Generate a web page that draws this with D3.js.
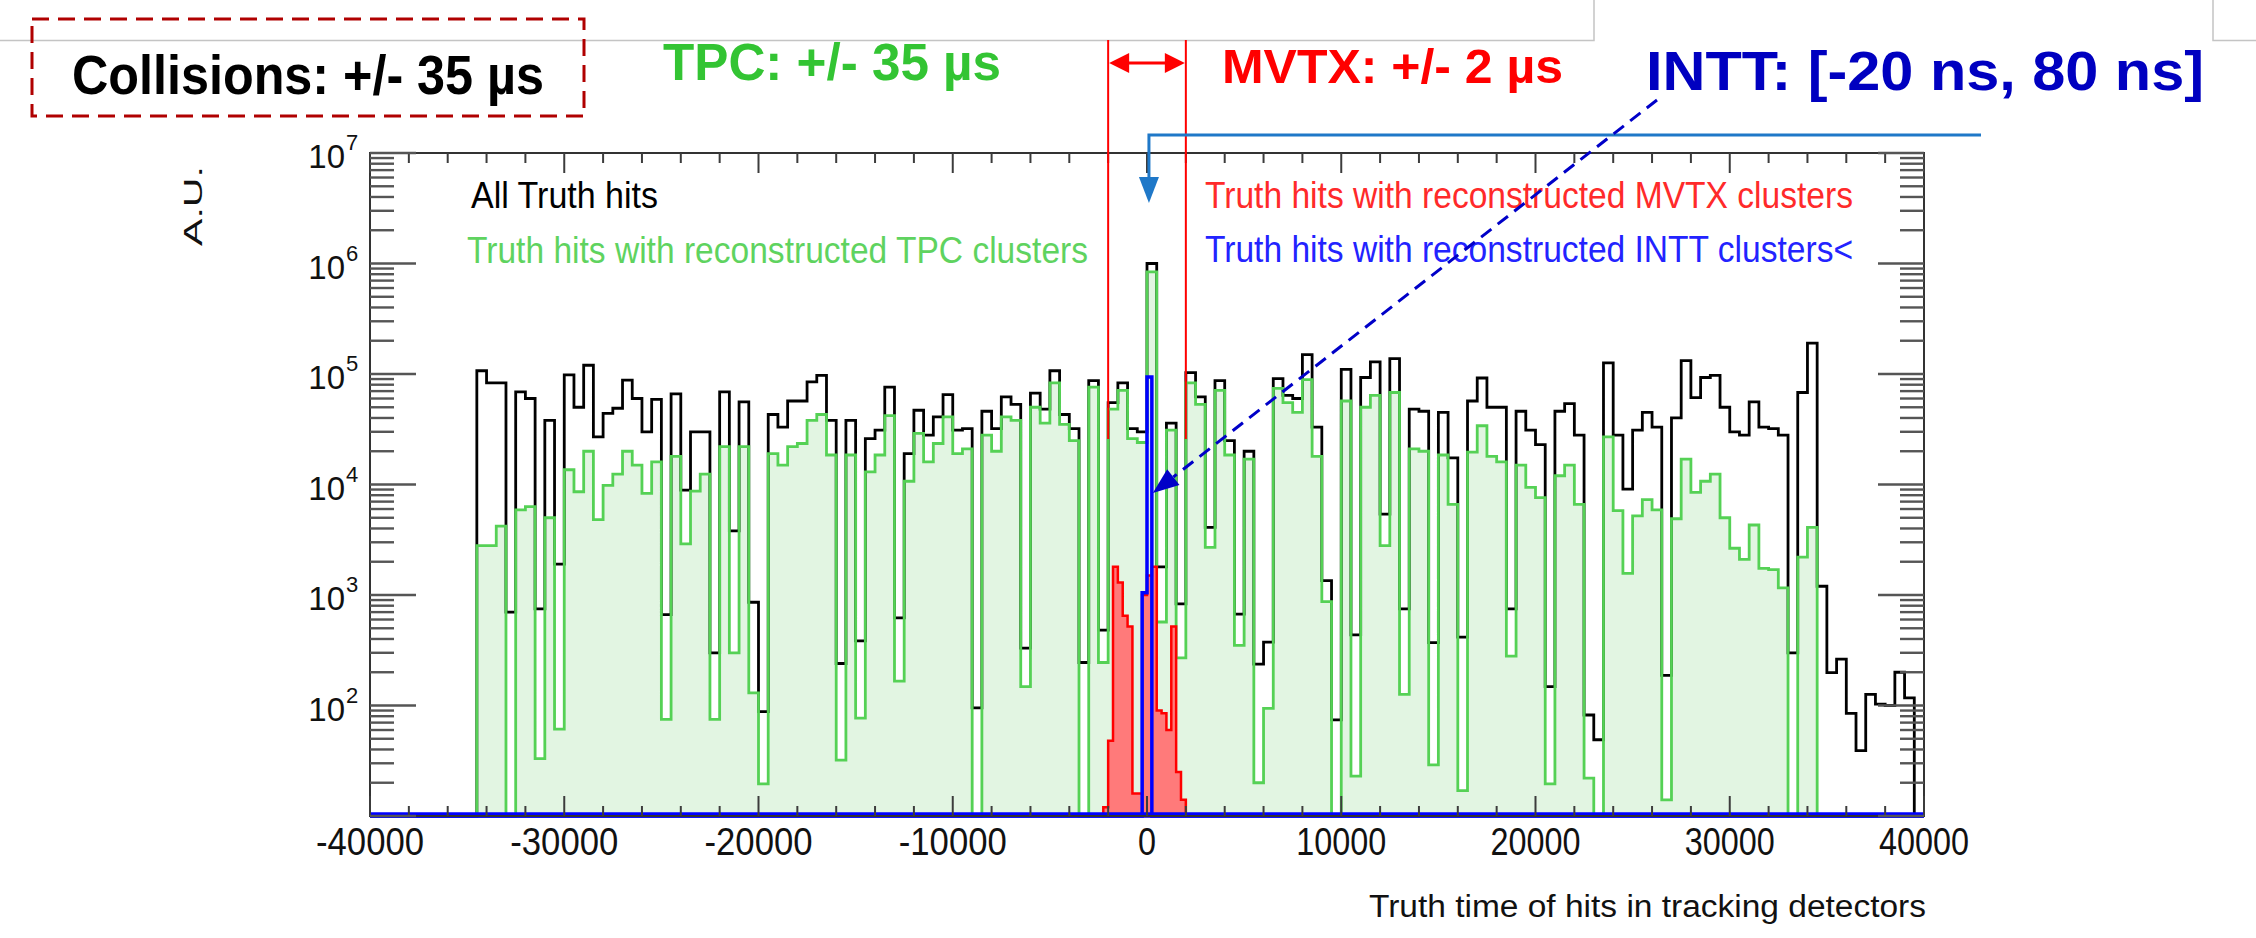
<!DOCTYPE html>
<html>
<head>
<meta charset="utf-8">
<script src="https://cdn.jsdelivr.net/npm/d3@7"></script>
<style>
  body { margin: 0; background: #ffffff; }
  svg { display: block; }
  text { font-family: "Liberation Sans", Arial, Helvetica, sans-serif; }
</style>
</head>
<body>
<svg id="chart" width="2256" height="938"></svg>
<script>
// ---- histogram contents (hits per 500 ns bin, -40000 .. 40000 ns) ----
const binStart = -40000;
const binWidth = 500;

const allHits = [
  0, 0, 0, 0, 0, 0, 0, 0, 0, 0, 0,
  1.07e5, 8.3e4, 8.3e4, 700, 6.9e4, 6.0e4, 750, 3.8e4, 1.9e3,
  9.8e4, 5.0e4, 1.2e5, 2.7e4, 4.4e4, 4.9e4, 8.8e4, 6.0e4, 3.0e4, 5.9e4,
  665, 6.6e4, 8.9e3, 3.0e4, 3.0e4, 300, 6.9e4, 3.8e3, 5.6e4, 860,
  88, 4.3e4, 3.3e4, 5.7e4, 5.7e4, 8.5e4, 9.7e4, 3.8e4, 240, 3.8e4,
  385, 2.6e4, 3.1e4, 7.6e4, 620, 1.9e4, 4.7e4, 2.8e4, 4.1e4, 6.5e4,
  3.1e4, 3.2e4, 95, 4.6e4, 3.2e4, 6.2e4, 5.3e4, 330, 6.7e4, 4.8e4,
  1.07e5, 4.3e4, 3.2e4, 245, 8.7e4, 480, 5.5e4, 8.3e4, 3.2e4, 3.0e4,
  1.0e6, 1.8e3, 3.6e4, 830, 1.03e5, 6.2e4, 4.1e3, 8.7e4, 2.5e4, 670,
  2.0e4, 237, 375, 9.1e4, 6.4e4, 6.0e4, 1.5e5, 3.3e4, 1.35e3, 74,
  1.1e5, 435, 9.3e4, 1.29e5, 5.4e3, 1.38e5, 750, 4.8e4, 4.6e4, 370,
  4.5e4, 1.74e4, 415, 5.7e4, 9.2e4, 5.0e4, 5.0e4, 750, 4.6e4, 3.1e4,
  2.3e4, 148, 4.6e4, 5.4e4, 2.8e4, 82, 49, 1.26e5, 2.8e4, 9.1e3,
  3.1e4, 4.5e4, 3.3e4, 187, 4.0e4, 1.32e5, 6.1e4, 9.3e4, 9.7e4, 5.0e4,
  3.0e4, 2.8e4, 5.6e4, 3.3e4, 3.2e4, 2.8e4, 300, 6.8e4, 1.9e5, 1.2e3,
  198, 263, 85, 39, 126, 103, 100, 200, 117, 0
];

const tpcHits = [
  0, 0, 0, 0, 0, 0, 0, 0, 0, 0, 0,
  2.8e3, 2.8e3, 4.2e3, 0, 5.9e3, 6.3e3, 33, 5.0e3, 61,
  1.36e4, 8.6e3, 2.0e4, 4.8e3, 9.8e3, 1.24e4, 2.0e4, 1.5e4, 8.3e3, 1.6e4,
  75, 1.8e4, 2.9e3, 8.7e3, 1.24e4, 75, 2.2e4, 300, 2.2e4, 130,
  19.5, 1.9e4, 1.5e4, 2.2e4, 2.35e4, 3.8e4, 4.3e4, 1.85e4, 32, 1.85e4,
  77, 1.3e4, 1.85e4, 4.2e4, 166, 1.07e4, 2.9e4, 1.6e4, 2.35e4, 4.1e4,
  1.9e4, 2.1e4, 0, 2.8e4, 2.0e4, 4.1e4, 3.8e4, 148, 5.0e4, 3.6e4,
  8.3e4, 3.5e4, 2.5e4, 0, 7.6e4, 245, 4.8e4, 7.1e4, 2.6e4, 2.4e4,
  8.4e5, 570, 3.1e4, 270, 8.3e4, 5.3e4, 2.7e3, 7.1e4, 1.85e4, 350,
  1.7e4, 20, 94, 7.4e4, 5.5e4, 4.5e4, 8.9e4, 1.8e4, 870, 0,
  5.7e4, 23, 5.0e4, 6.4e4, 2.8e3, 6.8e4, 126, 2.1e4, 2.0e4, 29,
  1.85e4, 6.6e3, 17, 1.96e4, 3.4e4, 1.8e4, 1.6e4, 280, 1.5e4, 9.4e3,
  7.6e3, 19.5, 1.2e4, 1.5e4, 6.6e3, 22, 0, 2.7e4, 5.8e3, 1.57e3,
  5.2e3, 7.3e3, 5.9e3, 14, 4.9e3, 1.7e4, 8.5e3, 1.07e4, 1.24e4, 5.0e3,
  2.65e3, 2.1e3, 4.3e3, 1.74e3, 1.7e3, 1.16e3, 0, 2.2e3, 4.1e3, 0,
  0, 0, 0, 0, 0, 0, 0, 0, 0, 0
];

// MVTX: finer 250 ns bins around the trigger
const mvtxStart = -2250;
const mvtxWidth = 250;
const mvtxHits = [12, 48, 1800, 1300, 650, 520, 16, 16, 1000, 1500, 1800, 90, 85, 60, 520, 25, 14, 0];

// INTT: only the bins around t = 0 are populated
const inttEdges = [-250, 0, 250];
const inttHits = [1050, 9.4e4];

const xTickValues = [-40000, -30000, -20000, -10000, 0, 10000, 20000, 30000, 40000];
const xTickLabels = ["-40000", "-30000", "-20000", "-10000", "0", "10000", "20000", "30000", "40000"];
const yDecades = [2, 3, 4, 5, 6, 7];

const legendLabels = [
  "All Truth hits",
  "Truth hits with reconstructed TPC clusters",
  "Truth hits with reconstructed MVTX clusters",
  "Truth hits with reconstructed INTT clusters<"
];
const windowLabels = [
  "Collisions: +/- 35 \u00b5s",
  "TPC: +/- 35 \u00b5s",
  "MVTX: +/- 2 \u00b5s",
  "INTT: [-20 ns, 80 ns]"
];
const mvtxWindow = [-2000, 2000];

// ---- layout ----
const svg = d3.select("#chart");
const frame = { left: 370, right: 1924, top: 153, bottom: 816 };

const x = d3.scaleLinear().domain([-40000, 40000]).range([frame.left, frame.right]);
const y = d3.scaleLog().domain([10, 1e7]).range([frame.bottom, frame.top]);
const yClamp = v => (v > 10 ? y(v) : frame.bottom);

const colors = {
  all: "#000000",
  tpcLine: "#55d155",
  tpcFill: "#e2f5e2",
  mvtxLine: "#ff0000",
  mvtxFill: "#ff7a7a",
  intt: "#0000ff",
  tick: "#3c3c3c"
};

function edgesFrom(start, width, n) {
  return d3.range(n + 1).map(i => start + i * width);
}

// step outline of a histogram, optionally padded with empty bins to the full axis
function stepPath(edges, values, padFull) {
  const p = d3.path();
  const b = frame.bottom;
  if (padFull) {
    p.moveTo(x(-40000), b);
    p.lineTo(x(edges[0]), b);
  } else {
    p.moveTo(x(edges[0]), b);
  }
  values.forEach((v, i) => {
    p.lineTo(x(edges[i]), yClamp(v));
    p.lineTo(x(edges[i + 1]), yClamp(v));
  });
  p.lineTo(x(edges[edges.length - 1]), b);
  if (padFull) p.lineTo(x(40000), b);
  return p.toString();
}

const mainEdges = edgesFrom(binStart, binWidth, allHits.length);
const mvtxEdges = edgesFrom(mvtxStart, mvtxWidth, mvtxHits.length);

svg.append("defs").append("clipPath").attr("id", "plotClip")
  .append("rect")
  .attr("x", frame.left).attr("y", frame.top - 2)
  .attr("width", frame.right - frame.left).attr("height", frame.bottom - frame.top + 6);

const plot = svg.append("g").attr("clip-path", "url(#plotClip)");

// TPC fill underneath everything
plot.append("path")
  .attr("d", stepPath(mainEdges, tpcHits, false) + "Z")
  .attr("fill", colors.tpcFill).attr("stroke", "none");

// all hits
plot.append("path")
  .attr("d", stepPath(mainEdges, allHits, false))
  .attr("fill", "none").attr("stroke", colors.all).attr("stroke-width", 2.8)
  .attr("stroke-linejoin", "miter");

// TPC outline
plot.append("path")
  .attr("d", stepPath(mainEdges, tpcHits, false))
  .attr("fill", "none").attr("stroke", colors.tpcLine).attr("stroke-width", 2.8);

// MVTX
plot.append("path")
  .attr("d", stepPath(mvtxEdges, mvtxHits, false) + "Z")
  .attr("fill", colors.mvtxFill).attr("stroke", colors.mvtxLine).attr("stroke-width", 2.5);

// INTT (empty bins run along the bottom of the frame)
plot.append("path")
  .attr("d", stepPath(inttEdges, inttHits, true))
  .attr("fill", "none").attr("stroke", colors.intt).attr("stroke-width", 3.5);

plot.append("line")
  .attr("x1", frame.left).attr("x2", frame.right)
  .attr("y1", frame.bottom - 1).attr("y2", frame.bottom - 1)
  .attr("stroke", colors.intt).attr("stroke-width", 5.5);

// ---- frame and ticks ----
const axes = svg.append("g");
axes.append("rect")
  .attr("x", frame.left).attr("y", frame.top)
  .attr("width", frame.right - frame.left).attr("height", frame.bottom - frame.top)
  .attr("fill", "none").attr("stroke", "#333").attr("stroke-width", 2);

// x ticks: major every 10000, minor every 2000, on bottom and top
d3.range(-40000, 40001, 2000).forEach(v => {
  const major = v % 10000 === 0;
  const len = major ? 20 : 10;
  const xx = x(v);
  axes.append("line").attr("x1", xx).attr("x2", xx)
    .attr("y1", frame.bottom).attr("y2", frame.bottom - len)
    .attr("stroke", colors.tick).attr("stroke-width", 2);
  axes.append("line").attr("x1", xx).attr("x2", xx)
    .attr("y1", frame.top).attr("y2", frame.top + len)
    .attr("stroke", colors.tick).attr("stroke-width", 2);
});

// y ticks (log): decades long, 2..9 short, on left and right
for (let d = 1; d <= 7; d++) {
  for (let m = 1; m <= 9; m++) {
    const v = m * Math.pow(10, d);
    if (v > 1e7 || v < 10) continue;
    const len = m === 1 ? 46 : 24;
    const yy = y(v);
    axes.append("line").attr("x1", frame.left).attr("x2", frame.left + len)
      .attr("y1", yy).attr("y2", yy)
      .attr("stroke", "#555").attr("stroke-width", 2.4);
    axes.append("line").attr("x1", frame.right).attr("x2", frame.right - len)
      .attr("y1", yy).attr("y2", yy)
      .attr("stroke", "#555").attr("stroke-width", 2.4);
  }
}

// helper: squeeze a text element to a given width
function fitWidth(sel, w) {
  sel.attr("textLength", w).attr("lengthAdjust", "spacingAndGlyphs");
  return sel;
}

// x tick labels
const xLabelWidth = s => (s === "0" ? 18 : s.startsWith("-") ? 108 : 90);
xTickValues.forEach((v, i) => {
  const s = xTickLabels[i];
  const w = xLabelWidth(s);
  fitWidth(svg.append("text")
    .attr("x", x(v) - w / 2).attr("y", 855)
    .attr("font-size", 38).attr("fill", "#111")
    .text(s), w);
});

// y tick labels 10^n
yDecades.forEach(d => {
  const yy = y(Math.pow(10, d));
  svg.append("text")
    .attr("x", 345).attr("y", yy + 15)
    .attr("text-anchor", "end")
    .attr("font-size", 33).attr("fill", "#111")
    .text("10");
  svg.append("text")
    .attr("x", 346).attr("y", yy - 3)
    .attr("font-size", 22).attr("fill", "#111")
    .text(String(d));
});

// axis titles
fitWidth(svg.append("text")
  .attr("x", 1369).attr("y", 917)
  .attr("font-size", 31).attr("fill", "#111")
  .text("Truth time of hits in tracking detectors"), 557);

fitWidth(svg.append("text")
  .attr("transform", "translate(202,166) rotate(-90)")
  .attr("x", -80).attr("y", 0)
  .attr("font-size", 26).attr("fill", "#111")
  .text("A.U."), 80);

// legend entries inside the frame
const legendPos = [
  { x: 471, y: 208, w: 187, c: "#000000" },
  { x: 467, y: 263, w: 621, c: "#5fd35f" },
  { x: 1205, y: 208, w: 648, c: "#ff2a2a" },
  { x: 1205, y: 262, w: 648, c: "#2323ff" }
];
legendLabels.forEach((s, i) => {
  const p = legendPos[i];
  fitWidth(svg.append("text")
    .attr("x", p.x).attr("y", p.y)
    .attr("font-size", 36).attr("fill", p.c)
    .text(s), p.w);
});

// ---- slide annotations ----
const notes = svg.append("g");

// header rule
notes.append("path")
  .attr("d", "M0,40.5 H1594 V0 M2213,0 V40.5 H2256")
  .attr("fill", "none").attr("stroke", "#c4c4c4").attr("stroke-width", 1.5);

// collisions box
notes.append("rect")
  .attr("x", 32).attr("y", 19).attr("width", 552).attr("height", 97)
  .attr("fill", "none").attr("stroke", "#b00000").attr("stroke-width", 3)
  .attr("stroke-dasharray", "17 9");

const titlePos = [
  { x: 72, y: 94, w: 472, size: 56, c: "#000000" },
  { x: 663, y: 80, w: 338, size: 52, c: "#33c433" },
  { x: 1222, y: 83, w: 341, size: 49, c: "#ff0000" },
  { x: 1646, y: 90, w: 558, size: 56, c: "#0000c0" }
];
windowLabels.forEach((s, i) => {
  const p = titlePos[i];
  fitWidth(notes.append("text")
    .attr("x", p.x).attr("y", p.y)
    .attr("font-size", p.size).attr("font-weight", "bold").attr("fill", p.c)
    .text(s), p.w);
});

// MVTX window lines and double arrow
mvtxWindow.forEach(v => {
  notes.append("line")
    .attr("x1", x(v)).attr("x2", x(v)).attr("y1", 40).attr("y2", 439)
    .attr("stroke", "#ff0000").attr("stroke-width", 2);
});
const ax0 = x(mvtxWindow[0]), ax1 = x(mvtxWindow[1]), ay = 63;
notes.append("line")
  .attr("x1", ax0 + 14).attr("x2", ax1 - 14).attr("y1", ay).attr("y2", ay)
  .attr("stroke", "#ff0000").attr("stroke-width", 3);
notes.append("path")
  .attr("d", `M${ax0 + 1},${ay} L${ax0 + 21},${ay - 10} L${ax0 + 21},${ay + 10} Z` +
             `M${ax1 - 1},${ay} L${ax1 - 21},${ay - 10} L${ax1 - 21},${ay + 10} Z`)
  .attr("fill", "#ff0000");

// INTT bracket arrow (light blue)
const bx = x(100);
notes.append("path")
  .attr("d", `M1981,135 H${bx} V180`)
  .attr("fill", "none").attr("stroke", "#1f78c8").attr("stroke-width", 3);
notes.append("path")
  .attr("d", `M${bx},203 L${bx - 10},177 L${bx + 10},177 Z`)
  .attr("fill", "#1f78c8");

// dashed pointer from INTT label to the INTT peak
const p0 = [1657, 100], p1 = [x(300), 493];
const dx = p1[0] - p0[0], dy = p1[1] - p0[1];
const L = Math.hypot(dx, dy), ux = dx / L, uy = dy / L;
const headLen = 26, headHalf = 10;
const hb = [p1[0] - ux * headLen, p1[1] - uy * headLen];
notes.append("line")
  .attr("x1", p0[0]).attr("y1", p0[1]).attr("x2", hb[0]).attr("y2", hb[1])
  .attr("stroke", "#0000c8").attr("stroke-width", 3).attr("stroke-dasharray", "13 8");
notes.append("path")
  .attr("d", `M${p1[0]},${p1[1]} L${hb[0] - uy * headHalf},${hb[1] + ux * headHalf} L${hb[0] + uy * headHalf},${hb[1] - ux * headHalf} Z`)
  .attr("fill", "#0000c8");
</script>
</body>
</html>
